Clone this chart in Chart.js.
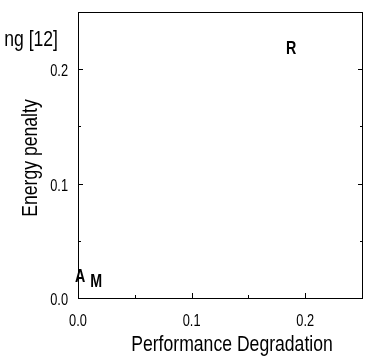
<!DOCTYPE html>
<html>
<head>
<meta charset="utf-8">
<script src="https://cdn.jsdelivr.net/npm/chart.js@4.4.1/dist/chart.umd.min.js"></script>
<style>
  html, body { margin: 0; padding: 0; background: #fff; }
  #wrap { width: 372px; height: 356px; }
</style>
</head>
<body>
<div id="wrap"><canvas id="chartCanvas"></canvas></div>
<script>
const pointLabels = ['A', 'M', 'R'];
const perfDegradation = [0.0018, 0.0159, 0.1877];
const energyPenalty = [0.0205, 0.0157, 0.2192];
const xTicks = [0.0, 0.1, 0.2];
const yTicks = [0.0, 0.1, 0.2];
const minorTicks = [0.05, 0.15, 0.25];
const xTitle = 'Performance Degradation';
const yTitle = 'Energy penalty';
const cutLegendText = 'ng [12]';

// no narrow font installed, so squeeze Liberation Sans to look like Arial Narrow
function narrowText(ctx, text, x, y, size, opts = {}) {
  const squeeze = opts.squeeze || 0.8;
  ctx.save();
  ctx.translate(x, y);
  if (opts.rotate) ctx.rotate(opts.rotate);
  ctx.scale(squeeze, 1);
  ctx.font = (opts.bold ? 'bold ' : '') + size + 'px "Liberation Sans", Arial, sans-serif';
  ctx.textAlign = opts.align || 'left';
  ctx.textBaseline = 'alphabetic';
  ctx.fillStyle = '#000';
  ctx.fillText(text, 0, 0);
  ctx.restore();
}

const framePlugin = {
  id: 'framePlugin',
  afterDraw(chart) {
    const ctx = chart.ctx;
    const a = chart.chartArea;
    const xs = chart.scales.x;
    const ys = chart.scales.y;
    ctx.save();
    ctx.strokeStyle = '#000';
    ctx.lineWidth = 1;
    ctx.strokeRect(a.left + 0.5, a.top + 0.5, a.right - a.left, a.bottom - a.top);

    // inward ticks, right side mirrors the left
    ctx.beginPath();
    xTicks.concat(minorTicks).forEach((v) => {
      const len = xTicks.includes(v) ? 5 : 3;
      const px = Math.round(xs.getPixelForValue(v)) + 0.5;
      ctx.moveTo(px, a.bottom);
      ctx.lineTo(px, a.bottom - len);
    });
    yTicks.concat(minorTicks).forEach((v) => {
      const len = yTicks.includes(v) ? 5 : 3;
      const py = Math.round(ys.getPixelForValue(v)) + 0.5;
      ctx.moveTo(a.left, py);
      ctx.lineTo(a.left + len, py);
      ctx.moveTo(a.right + 1, py);
      ctx.lineTo(a.right + 1 - len, py);
    });
    ctx.stroke();
    ctx.restore();

    // tick labels
    xs.ticks.forEach((t) => {
      narrowText(ctx, t.value.toFixed(1), xs.getPixelForValue(t.value), a.bottom + 28, 16, { align: 'center' });
    });
    ys.ticks.forEach((t) => {
      narrowText(ctx, t.value.toFixed(1), a.left - 10, ys.getPixelForValue(t.value) + 7, 16, { align: 'right' });
    });

    // axis titles
    narrowText(ctx, xTitle, (a.left + a.right) / 2 + 12, 351, 22, { align: 'center' });
    narrowText(ctx, yTitle, 37, (a.top + a.bottom) / 2 + 3, 22, { align: 'center', rotate: -Math.PI / 2 });

    // letter markers, centred on their value
    pointLabels.forEach((lbl, i) => {
      const px = xs.getPixelForValue(perfDegradation[i]);
      const py = ys.getPixelForValue(energyPenalty[i]);
      narrowText(ctx, lbl, px, py + 7, 19, { bold: true, align: 'center', squeeze: 0.75 });
    });

    narrowText(ctx, cutLegendText, 58, 46, 22, { align: 'right' });
  },
};

const ctx = document.getElementById('chartCanvas').getContext('2d');
new Chart(ctx, {
  type: 'scatter',
  data: {
    datasets: [
      {
        data: perfDegradation.map((x, i) => ({ x: x, y: energyPenalty[i] })),
        pointRadius: 0,
        pointHoverRadius: 0,
      },
    ],
  },
  options: {
    responsive: true,
    maintainAspectRatio: false,
    animation: false,
    layout: { padding: { top: 12, right: 10, left: 0, bottom: 0 } },
    plugins: {
      legend: { display: false },
      tooltip: { enabled: false },
    },
    scales: {
      x: {
        type: 'linear',
        min: 0,
        max: 0.25,
        afterBuildTicks: (s) => { s.ticks = xTicks.map((v) => ({ value: v })); },
        afterFit: (s) => { s.height = 58; },
        grid: { display: false },
        border: { display: false },
        ticks: { display: false },
      },
      y: {
        type: 'linear',
        min: 0,
        max: 0.25,
        afterBuildTicks: (s) => { s.ticks = yTicks.map((v) => ({ value: v })); },
        afterFit: (s) => { s.width = 78; },
        grid: { display: false },
        border: { display: false },
        ticks: { display: false },
      },
    },
  },
  plugins: [framePlugin],
});
</script>
</body>
</html>
